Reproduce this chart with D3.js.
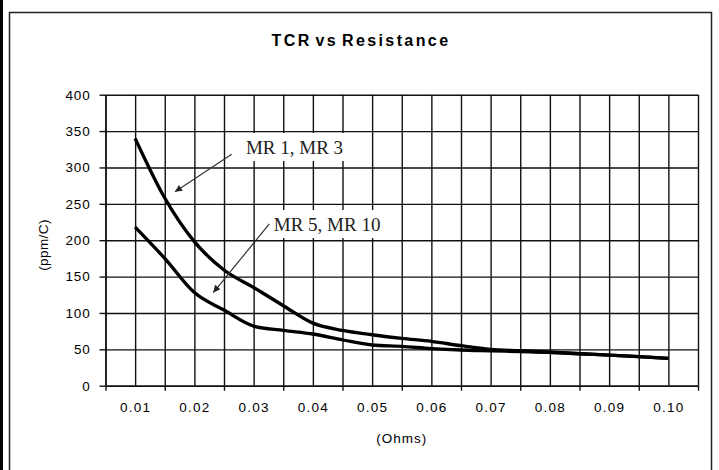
<!DOCTYPE html>
<html>
<head>
<meta charset="utf-8">
<script src="https://cdn.jsdelivr.net/npm/d3@7/dist/d3.min.js"></script>
<style>
  html, body { margin: 0; padding: 0; background: #fff; }
  svg { display: block; }
</style>
</head>
<body>
<svg id="chart" width="719" height="470"></svg>
<script>
// ---- data ----
const categories = [0.01, 0.02, 0.03, 0.04, 0.05, 0.06, 0.07, 0.08, 0.09, 0.10];
const xTickLabels = ["0.01", "0.02", "0.03", "0.04", "0.05", "0.06", "0.07", "0.08", "0.09", "0.10"];
const resistance = [0.010, 0.015, 0.020, 0.025, 0.030, 0.035, 0.040, 0.045, 0.050, 0.055,
                    0.060, 0.065, 0.070, 0.075, 0.080, 0.085, 0.090, 0.095, 0.100];
const tcrMR1MR3 = [340, 258, 198, 159, 135, 110, 86, 76, 70, 65,
                   61, 55, 50, 48, 46, 44, 42, 40, 37.5];
const tcrMR5MR10 = [218, 175, 128, 104, 82, 76, 71, 63, 56, 54,
                    51, 49, 48, 47, 46, 44, 42, 40, 37.5];
const yTicks = [0, 50, 100, 150, 200, 250, 300, 350, 400];
const seriesNames = ["MR 1, MR 3", "MR 5, MR 10"];
const annotationText = [0.0287, 0.0334];      // x of label start
const annotationTextY = [318.5, 212.6];       // y (ppm/C) of label baseline
const arrowFromX = [0.0263, 0.03265];
const arrowFromY = [318.1, 222.3];
const arrowToX = [0.01673, 0.02319];
const arrowToY = [266.7, 128.1];

// ---- layout ----
const svg = d3.select("#chart");
const plot = { left: 105.5, right: 698, top: 94.7, bottom: 385.7 };

const x = d3.scaleLinear().domain([0.005, 0.105]).range([plot.left, plot.right]);
const y = d3.scaleLinear().domain([0, 400]).range([plot.bottom, plot.top]);

const sans = "'Liberation Sans', Arial, sans-serif";

// frame
svg.append("rect").attr("x", 0).attr("y", 0).attr("width", 3).attr("height", 470).attr("fill", "#000");
svg.append("rect").attr("x", 9.5).attr("y", 12.5).attr("width", 702).attr("height", 480)
  .attr("fill", "#fff").attr("stroke", "#222").attr("stroke-width", 1.5);

// title
svg.append("text").attr("x", 361).attr("y", 46).attr("text-anchor", "middle")
  .attr("font-family", sans).attr("font-weight", "bold")
  .attr("font-size", 16).attr("letter-spacing", 2.4).attr("word-spacing", -3)
  .attr("fill", "#000").text("TCR vs Resistance");

const gridColor = "#111";
const gridW = 1.4;

// vertical gridlines every half-category
const vGrid = d3.range(0, 21).map(i => 0.005 + i * 0.005);
svg.append("g").attr("transform", `translate(0,${plot.bottom})`)
  .call(d3.axisBottom(x).tickValues(vGrid).tickSize(-(plot.bottom - plot.top)).tickFormat(""))
  .call(g => g.select(".domain").remove())
  .call(g => g.selectAll("line").attr("stroke", gridColor).attr("stroke-width", gridW));

// horizontal gridlines
svg.append("g").attr("transform", `translate(${plot.left},0)`)
  .call(d3.axisLeft(y).tickValues(yTicks).tickSizeInner(-(plot.right - plot.left)).tickSizeOuter(0).tickFormat(""))
  .call(g => g.select(".domain").remove())
  .call(g => g.selectAll("line").attr("stroke", gridColor).attr("stroke-width", gridW));

// y axis
const yAxis = svg.append("g").attr("transform", `translate(${plot.left},0)`)
  .call(d3.axisLeft(y).tickValues(yTicks).tickSizeInner(6).tickSizeOuter(0).tickPadding(9))
  .call(g => g.select(".domain").attr("stroke", gridColor).attr("stroke-width", gridW))
  .call(g => g.selectAll("line").attr("stroke", gridColor).attr("stroke-width", gridW));
yAxis.selectAll("text").attr("font-family", sans)
  .attr("font-size", 13.5).attr("letter-spacing", 0.8).attr("fill", "#000");

// x axis: tick marks at category boundaries
const xBoundaries = d3.range(0, 11).map(i => 0.005 + i * 0.01);
svg.append("g").attr("transform", `translate(0,${plot.bottom})`)
  .call(d3.axisBottom(x).tickValues(xBoundaries).tickSizeInner(5).tickSizeOuter(0).tickFormat(""))
  .call(g => g.select(".domain").attr("stroke", gridColor).attr("stroke-width", gridW))
  .call(g => g.selectAll("line").attr("stroke", gridColor).attr("stroke-width", gridW));

// x labels at category centers
const xLab = svg.append("g").attr("transform", `translate(0,${plot.bottom})`)
  .call(d3.axisBottom(x).tickValues(categories).tickSize(0).tickPadding(17)
    .tickFormat((d, i) => xTickLabels[i]))
  .call(g => g.select(".domain").remove());
xLab.selectAll("text").attr("font-family", sans)
  .attr("font-size", 13.5).attr("letter-spacing", 1.2).attr("fill", "#000");

// axis titles
svg.append("text").attr("transform", "translate(48,245) rotate(-90)").attr("text-anchor", "middle")
  .attr("font-family", sans).attr("font-size", 13.5)
  .attr("letter-spacing", 0.4).attr("fill", "#000").text("(ppm/C)");
svg.append("text").attr("x", (plot.left + plot.right) / 2).attr("y", 443).attr("text-anchor", "middle")
  .attr("font-family", sans).attr("font-size", 13.5)
  .attr("letter-spacing", 1).attr("word-spacing", -2).attr("fill", "#000").text("(Ohms)");

// series lines
const line = d3.line().x(d => x(d[0])).y(d => y(d[1])).curve(d3.curveMonotoneX);
[tcrMR1MR3, tcrMR5MR10].forEach(vals => {
  svg.append("path").datum(resistance.map((r, i) => [r, vals[i]]))
    .attr("d", line).attr("fill", "none").attr("stroke", "#000")
    .attr("stroke-width", 3.4).attr("stroke-linejoin", "round").attr("stroke-linecap", "butt");
});

// annotations
svg.append("defs").append("marker").attr("id", "ah").attr("viewBox", "0 0 10 10")
  .attr("refX", 10).attr("refY", 5).attr("markerWidth", 11).attr("markerHeight", 7)
  .attr("markerUnits", "userSpaceOnUse").attr("orient", "auto")
  .append("path").attr("d", "M0,0 L10,5 L0,10 z").attr("fill", "#222");

seriesNames.forEach((name, i) => {
  const t = svg.append("text").attr("x", x(annotationText[i])).attr("y", y(annotationTextY[i]))
    .attr("font-family", "'Liberation Serif', 'Times New Roman', serif").attr("font-size", 19)
    .attr("fill", "#222").text(name);
  const bb = t.node().getBBox();
  svg.insert("rect", () => t.node()).attr("x", bb.x - 10).attr("y", bb.y - 4)
    .attr("width", bb.width + 20).attr("height", bb.height + 7).attr("fill", "#fff");
  svg.append("line").attr("x1", x(arrowFromX[i])).attr("y1", y(arrowFromY[i]))
    .attr("x2", x(arrowToX[i])).attr("y2", y(arrowToY[i]))
    .attr("stroke", "#333").attr("stroke-width", 1.2).attr("marker-end", "url(#ah)");
});
</script>
</body>
</html>
